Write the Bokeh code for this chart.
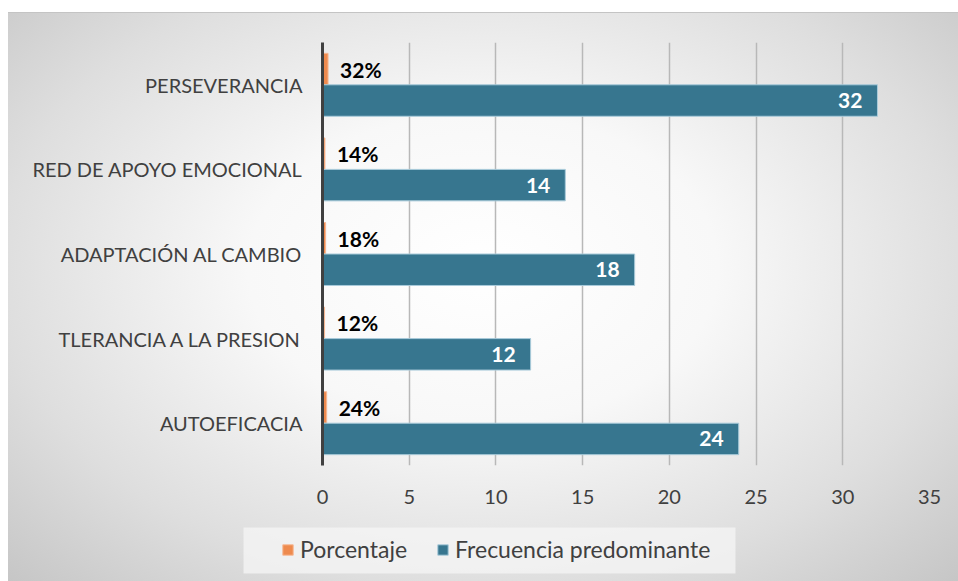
from bokeh.plotting import figure
from bokeh.layouts import column, row
from bokeh.models import ColumnDataSource, Legend, FixedTicker, Range1d
from bokeh.transform import dodge
from bokeh.core.properties import value
from bokeh.embed import file_html
from bokeh.resources import INLINE

categories = ["AUTOEFICACIA", "TLERANCIA A LA PRESION", "ADAPTACIÓN AL CAMBIO",
              "RED DE APOYO EMOCIONAL", "PERSEVERANCIA"]
frecuencia = [24, 12, 18, 14, 32]
porcentaje = [0.24, 0.12, 0.18, 0.14, 0.32]
porcentaje_labels = ["24%", "12%", "18%", "14%", "32%"]
frecuencia_labels = ["24", "12", "18", "14", "32"]
x_ticks = [0, 5, 10, 15, 20, 25, 30, 35]
series_names = ["Porcentaje", "Frecuencia predominante"]

FONT = "Lato"
ORANGE, ORANGE_EDGE = "#EE8A4E", "#F6B793"
BLUE, BLUE_EDGE = "#37768F", "#A9CBDA"

src = ColumnDataSource(dict(cat=categories, frec=frecuencia, pct=porcentaje,
                            pct_lbl=porcentaje_labels, frec_lbl=frecuencia_labels))

p = figure(width=958, height=515, y_range=categories, x_range=(0, 35),
           output_backend="svg", toolbar_location=None,
           min_border_left=322, min_border_right=29, min_border_top=42, min_border_bottom=50)
p.border_fill_color = None
p.background_fill_color = None
p.outline_line_color = None

off = 0.186
hgt = 0.372
p.hbar(y=dodge("cat", off, range=p.y_range), right="pct", left=0, height=hgt, source=src,
       fill_color=ORANGE, line_color=ORANGE_EDGE, line_width=1)
p.hbar(y=dodge("cat", -off, range=p.y_range), right="frec", left=0, height=hgt, source=src,
       fill_color=BLUE, line_color=BLUE_EDGE, line_width=1)

p.text(x="pct", y=dodge("cat", off, range=p.y_range), text="pct_lbl", source=src,
       x_offset=12, text_align="left", text_baseline="middle",
       text_font=value(FONT), text_font_style="bold", text_font_size="21px", text_color="#000000")
p.text(x="frec", y=dodge("cat", -off, range=p.y_range), text="frec_lbl", source=src,
       x_offset=-15, text_align="right", text_baseline="middle",
       text_font=value(FONT), text_font_style="bold", text_font_size="21px", text_color="#ffffff")

p.xaxis.ticker = FixedTicker(ticks=x_ticks)
p.xaxis.axis_line_color = None
p.xaxis.major_tick_line_color = None
p.xaxis.minor_tick_line_color = None
p.xaxis.major_label_standoff = 18
p.xaxis.major_label_text_font = FONT
p.xaxis.major_label_text_font_size = "20px"
p.xaxis.major_label_text_color = "#404040"

p.yaxis.axis_line_color = "#404040"
p.yaxis.axis_line_width = 3
p.yaxis.major_tick_line_color = None
p.yaxis.minor_tick_line_color = None
p.yaxis.major_label_standoff = 14
p.yaxis.major_label_text_font = FONT
p.yaxis.major_label_text_font_size = "20px"
p.yaxis.major_label_text_color = "#404040"

p.ygrid.grid_line_color = None
p.xgrid.grid_line_color = "#b8b8b8"
p.xgrid.grid_line_width = 1.5
p.xgrid.ticker = FixedTicker(ticks=x_ticks[1:])

# legend strip: a separate figure whose frame is the whole strip, in pixel units
lg = figure(width=958, height=66, x_range=Range1d(0, 958), y_range=Range1d(0, 66),
            output_backend="svg", toolbar_location=None,
            x_axis_location=None, y_axis_location=None,
            min_border=0, min_border_left=0, min_border_right=0, min_border_top=0, min_border_bottom=0)
lg.border_fill_color = None
lg.background_fill_color = None
lg.outline_line_color = None
lg.grid.visible = False
lg.quad(left=[243], right=[735], bottom=[8], top=[54], fill_color="#f6f6f6", fill_alpha=0.75, line_color=None)
r1 = lg.quad(left=[-20], right=[-10], bottom=[-20], top=[-10], fill_color=ORANGE, line_color=ORANGE_EDGE)
r2 = lg.quad(left=[-20], right=[-10], bottom=[-20], top=[-10], fill_color=BLUE, line_color=BLUE_EDGE)
legend = Legend(items=[(series_names[0], [r1]), (series_names[1], [r2])],
                orientation="horizontal", location=(281, 18),
                label_text_font=FONT, label_text_font_size="23px", label_text_color="#404040",
                glyph_width=13, glyph_height=13, label_standoff=6, spacing=29,
                padding=12, margin=0, background_fill_alpha=0, border_line_color=None)
lg.add_layout(legend)

layout = column(p, row(lg), spacing=0)
layout.styles = {
    "background-image": "linear-gradient(#c4c4c4, #c4c4c4), radial-gradient(ellipse at 50% 45%, #ffffff 0%, #f8f8f8 35%, #dedede 72%, #c6c6c6 100%)",
    "background-position": "8px 12px, 8px 12px",
    "background-size": "950px 1px, 950px 569px",
    "background-repeat": "no-repeat, no-repeat",
}

open("out.html", "w").write(file_html(layout, INLINE))
